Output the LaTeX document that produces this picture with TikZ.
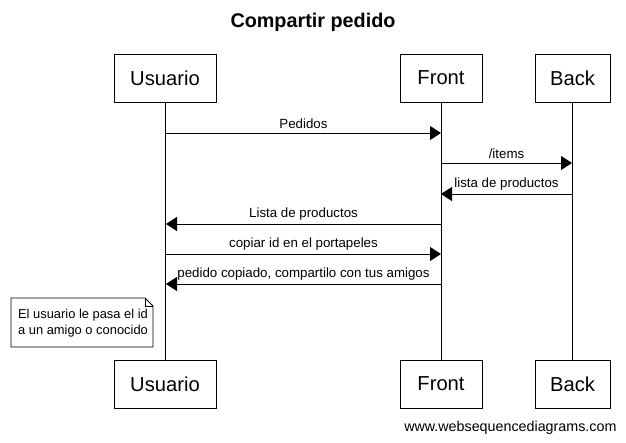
\documentclass[tikz,border=0pt]{standalone}
\usepackage{fontspec}
\setmainfont{Liberation Sans}
\usetikzlibrary{arrows.meta}
\begin{document}
\begin{tikzpicture}[x=1pt,y=-1pt,
  actor/.style={draw,line width=0.8pt,minimum height=48pt,inner sep=0pt,font=\fontsize{20.2}{23}\selectfont},
  life/.style={line width=0.8pt},
  msg/.style={line width=0.8pt,-{Triangle[length=11pt,width=14pt]}},
  lbl/.style={font=\fontsize{13.3}{15}\selectfont,above=0.5pt}]
\useasboundingbox (0,0) rectangle (626,443);
\node[font=\bfseries\fontsize{19.8}{23}\selectfont] (title) at (313,22) {Compartir pedido};
\node[actor,minimum width=102pt] (ut) at (165,78) {Usuario};
\node[actor,minimum width=82pt] (ft) at (441,78) {Front};
\node[actor,minimum width=75pt] (bt) at (572.5,78) {Back};
\node[actor,minimum width=102pt] (ub) at (165,384) {Usuario};
\node[actor,minimum width=82pt] (fb) at (441,384) {Front};
\node[actor,minimum width=75pt] (bb) at (572.5,384) {Back};
\draw[life] (ut.south) -- (ub.north);
\draw[life] (ft.south) -- (fb.north);
\draw[life] (bt.south) -- (bb.north);
\coordinate (u1) at (166,133); \coordinate (f1) at (441,133);
\coordinate (f2) at (441,163); \coordinate (b2) at (572,163);
\coordinate (b3) at (572,194); \coordinate (f3) at (441,194);
\coordinate (f4) at (441,224); \coordinate (u4) at (166,224);
\coordinate (u5) at (166,254); \coordinate (f5) at (441,254);
\coordinate (f6) at (441,284); \coordinate (u6) at (166,284);
\draw[msg] (u1) -- node[lbl] {Pedidos} (f1);
\draw[msg] (f2) -- node[lbl] {/items} (b2);
\draw[msg] (b3) -- node[lbl] {lista de productos} (f3);
\draw[msg] (f4) -- node[lbl] {Lista de productos} (u4);
\draw[msg] (u5) -- node[lbl] {copiar id en el portapeles} (f5);
\draw[msg] (f6) -- node[lbl] {pedido copiado, compartilo con tus amigos} (u6);
\draw[line width=0.8pt,fill=white] (11,298) -- (145,298) -- (153,306) -- (153,347) -- (11,347) -- cycle;
\draw[line width=0.6pt] (145,298) -- (145,306) -- (153,306);
\node[align=left,font=\fontsize{12.9}{16}\selectfont,inner sep=0pt] (note) at (83,323) {El usuario le pasa el id\\a un amigo o conocido};
\node[font=\fontsize{14.3}{16}\selectfont,anchor=east] (wm) at (620,428) {www.websequencediagrams.com};
\end{tikzpicture}
\end{document}
